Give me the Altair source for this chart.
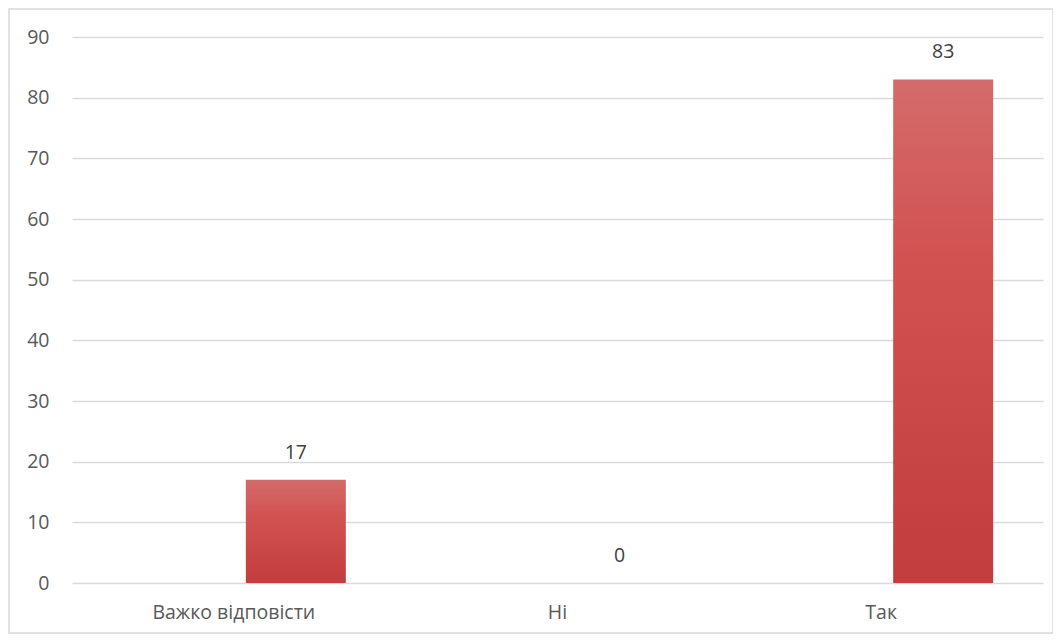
import altair as alt
import pandas as pd

categories = ["Важко відповісти", "Ні", "Так"]
values = [17, 0, 83]
y_ticks = [0, 10, 20, 30, 40, 50, 60, 70, 80, 90]

df = pd.DataFrame({"cat": categories, "val": values})

W = 971
H = 546
FONT = "Open Sans"

x_enc = alt.X("cat:N", sort=categories, title=None,
              scale=alt.Scale(paddingInner=0, paddingOuter=0),
              axis=alt.Axis(labelAngle=0, labelFontSize=19.5, labelColor="#595959",
                            labelFont=FONT, labelPadding=20, ticks=False,
                            domain=False, grid=False))
y_enc = alt.Y("val:Q", title=None,
              scale=alt.Scale(domain=[0, 90], nice=False),
              axis=alt.Axis(values=y_ticks, labelFontSize=19.5, labelColor="#595959",
                            labelFont=FONT, labelPadding=23, ticks=False,
                            domain=False, grid=True, gridColor="#d9d9d9",
                            gridWidth=1.5))

grad = alt.Gradient(
    gradient="linear", x1=0, x2=0, y1=0, y2=1,
    stops=[alt.GradientStop(offset=0, color="#d46b6b"),
           alt.GradientStop(offset=0.35, color="#d25252"),
           alt.GradientStop(offset=1, color="#c23d3d")])

bars = alt.Chart(df).mark_bar(width=100, xOffset=62, fill=grad,
                              strokeWidth=0).encode(
    x=x_enc, y=y_enc)

labels = alt.Chart(df).mark_text(xOffset=62, dy=-17, baseline="bottom",
                                 fontSize=19.5, font=FONT, color="#404040").encode(
    x=alt.X("cat:N", sort=categories), y="val:Q", text="val:Q")

border = alt.Chart(pd.DataFrame({"a": [0]})).mark_rect(
    fill=None, stroke="#d9d9d9", strokeWidth=1.5).encode(
    x=alt.value(-63), x2=alt.value(981), y=alt.value(-28), y2=alt.value(596))

chart = alt.layer(border, bars, labels).properties(
    width=W, height=H,
    autosize=alt.AutoSizeParams(type="none"),
    padding={"left": 64, "top": 29, "right": 10, "bottom": 56},
    background="white",
).configure_view(stroke=None)

chart.save("out.html", embed_options={"renderer": "svg", "actions": False})
